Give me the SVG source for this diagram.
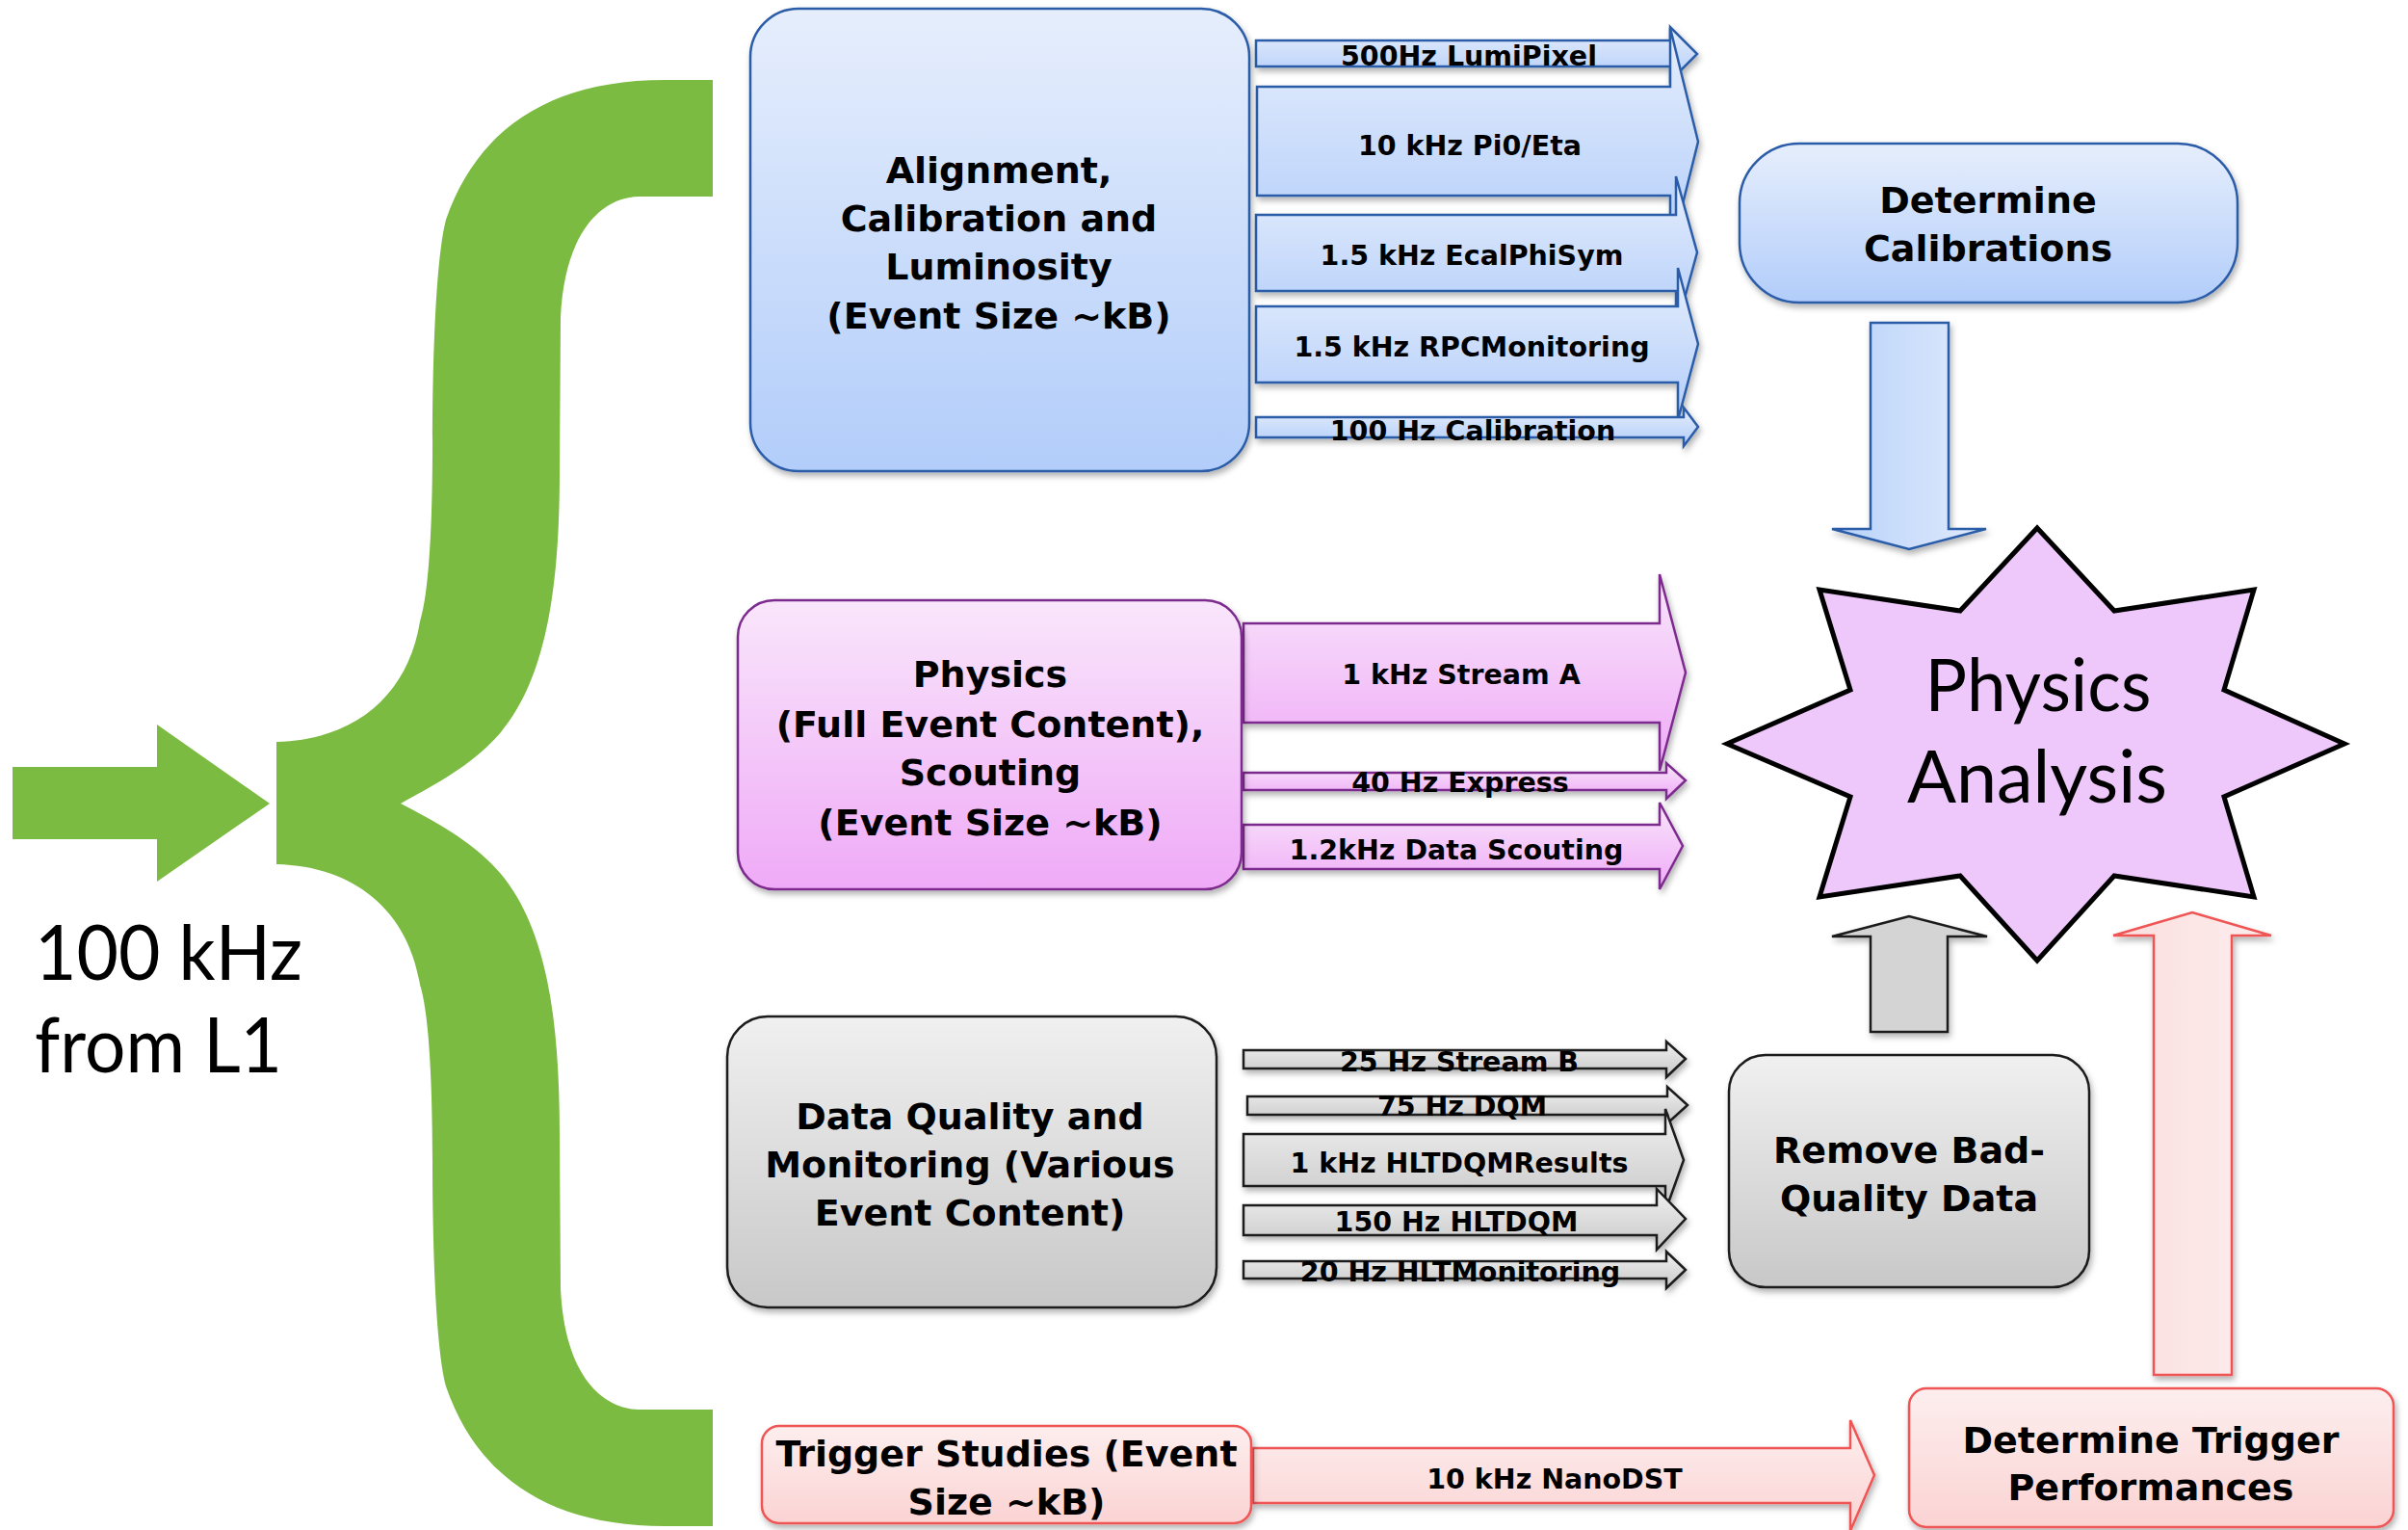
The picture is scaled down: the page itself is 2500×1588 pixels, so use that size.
<svg xmlns="http://www.w3.org/2000/svg" width="2500" height="1588" viewBox="0 0 2500 1588">
<defs>
<linearGradient id="gBlue" x1="0" y1="0" x2="0" y2="1"><stop offset="0" stop-color="#e6eefc"/><stop offset="1" stop-color="#b2cdfa"/></linearGradient>
<linearGradient id="gBlueH" x1="0" y1="0" x2="1" y2="0"><stop offset="0" stop-color="#b8d2fa"/><stop offset="1" stop-color="#e0eafc"/></linearGradient>
<linearGradient id="gPink" x1="0" y1="0" x2="0" y2="1"><stop offset="0" stop-color="#f9e6fb"/><stop offset="1" stop-color="#efaaf7"/></linearGradient>
<linearGradient id="gGray" x1="0" y1="0" x2="0" y2="1"><stop offset="0" stop-color="#f0f0f0"/><stop offset="1" stop-color="#c8c8c8"/></linearGradient>
<linearGradient id="gRed" x1="0" y1="0" x2="0" y2="1"><stop offset="0" stop-color="#fdeeee"/><stop offset="1" stop-color="#fbd3d3"/></linearGradient>
<linearGradient id="gRedH" x1="0" y1="0" x2="1" y2="0"><stop offset="0" stop-color="#fbdede"/><stop offset="1" stop-color="#fdeded"/></linearGradient>
<filter id="sh" x="-10%" y="-10%" width="120%" height="130%"><feDropShadow dx="2" dy="4" stdDeviation="3" flood-color="#000" flood-opacity="0.3"/></filter>
</defs>
<style>
.big{font-family:"DejaVu Sans","Verdana",sans-serif;font-weight:bold;font-size:38px;text-anchor:middle;fill:#000}
.lbl{font-family:"DejaVu Sans","Verdana",sans-serif;font-weight:bold;font-size:28.5px;text-anchor:middle;fill:#000}
.gill{font-family:Lato,"Open Sans",sans-serif;fill:#000}
.blue{fill:url(#gBlue);stroke:#2b5ca8;stroke-width:2.5}
.pink{fill:url(#gPink);stroke:#7d2c8e;stroke-width:2.5}
.gray{fill:url(#gGray);stroke:#1a1a1a;stroke-width:2.5}
.red{fill:url(#gRed);stroke:#f05454;stroke-width:2.5}
.sh{filter:url(#sh)}
</style>
<rect width="2500" height="1588" fill="#fff"/>

<g id="input">
<path d="M740 83 L690 83 C570 83 495 135 463 228 C452 270 449 380 449 460 C449 560 444 620 436 645 C424 720 370 768 287 770 L287 897 C370 899 424 947 436 1022 C444 1047 449 1107 449 1207 C449 1287 452 1397 463 1439 C495 1532 570 1584 690 1584 L740 1584 L740 1463 L663 1463 C625 1462 586 1427 582 1337 L581 1179 C581 1067 570 967 520 907 C490 872 450 852 416 834 C450 815 490 795 520 760 C570 700 581 600 581 488 L582 330 C586 240 625 205 663 204 L740 204 Z" fill="#7bbb41"/>
<polygon points="13,796 163,796 163,752 280,834 163,915 163,871 13,871" fill="#7bbb41"/>
<text class="gill" x="36" y="1017" font-size="80" textLength="278" lengthAdjust="spacingAndGlyphs">100 kHz</text>
<text class="gill" x="36" y="1113" font-size="80" textLength="257" lengthAdjust="spacingAndGlyphs">from L1</text>
</g>

<g id="connectors">
<g class="sh">
<polygon class="blue" points="1304,42 1734,42 1734,28 1762,56 1734,84 1734,69 1304,69"/>
<polygon class="blue" points="1305,90 1734,90 1734,29 1763,147 1734,264 1734,203 1305,203"/>
<polygon class="blue" points="1304,223 1740,223 1740,183 1762,262 1740,342 1740,302 1304,302"/>
<polygon class="blue" points="1304,318 1742,318 1742,278 1763,357 1742,436 1742,397 1304,397"/>
<polygon class="blue" points="1304,433 1748,433 1748,423 1763,443 1748,463 1748,454 1304,454"/>
</g>
<text class="lbl" x="1525" y="68">500Hz LumiPixel</text>
<text class="lbl" x="1526" y="161">10 kHz Pi0/Eta</text>
<text class="lbl" x="1528" y="275">1.5 kHz EcalPhiSym</text>
<text class="lbl" x="1528" y="370">1.5 kHz RPCMonitoring</text>
<text class="lbl" x="1529" y="457">100 Hz Calibration</text>

<g class="sh">
<polygon class="pink" points="1291,647 1723,647 1723,596 1750,698 1723,800 1723,750 1291,750"/>
<polygon class="pink" points="1291,802 1730,802 1730,792 1750,810 1730,829 1730,820 1291,820"/>
<polygon class="pink" points="1291,856 1723,856 1723,833 1747,878 1723,923 1723,902 1291,902"/>
</g>
<text class="lbl" x="1517" y="710">1 kHz Stream A</text>
<text class="lbl" x="1516" y="822">40 Hz Express</text>
<text class="lbl" x="1512" y="892">1.2kHz Data Scouting</text>

<g class="sh">
<polygon class="gray" points="1291,1090 1730,1090 1730,1081 1750,1099 1730,1118 1730,1109 1291,1109"/>
<polygon class="gray" points="1295,1138 1731,1138 1731,1128 1752,1147 1731,1166 1731,1157 1295,1157"/>
<polygon class="gray" points="1291,1177 1729,1177 1729,1151 1748,1204 1729,1257 1729,1231 1291,1231"/>
<polygon class="gray" points="1291,1251 1720,1251 1720,1234 1750,1265 1720,1297 1720,1282 1291,1282"/>
<polygon class="gray" points="1291,1309 1730,1309 1730,1299 1750,1318 1730,1337 1730,1327 1291,1327"/>
</g>
<text class="lbl" x="1515" y="1112">25 Hz Stream B</text>
<text class="lbl" x="1518" y="1158">75 Hz DQM</text>
<text class="lbl" x="1515" y="1217">1 kHz HLTDQMResults</text>
<text class="lbl" x="1512" y="1278">150 Hz HLTDQM</text>
<text class="lbl" x="1516" y="1330">20 Hz HLTMonitoring</text>

<polygon class="sh" points="1301,1503 1921,1503 1921,1474 1946,1531 1921,1589 1921,1560 1301,1560" fill="url(#gRed)" stroke="#f05454" stroke-width="2.5"/>
<text class="lbl" x="1614" y="1545">10 kHz NanoDST</text>

<polygon class="sh" points="1942,335 2023,335 2023,549 2062,549 1982,570 1902,549 1942,549" fill="url(#gBlueH)" stroke="#2b5ca8" stroke-width="2.5"/>
<polygon class="sh" points="1942,1071 2022,1071 2022,972 2063,972 1982,951 1902,972 1942,972" fill="#d4d4d4" stroke="#1a1a1a" stroke-width="2.5"/>
<polygon class="sh" points="2236,1427 2317,1427 2317,971 2358,971 2276,947 2194,971 2236,971" fill="url(#gRedH)" stroke="#f05454" stroke-width="2.5"/>
</g>

<g id="alignment">
<rect class="blue sh" x="779" y="9" width="518" height="480" rx="50" ry="50"/>
<text class="big" x="1037" y="190">Alignment,</text>
<text class="big" x="1037" y="240">Calibration and</text>
<text class="big" x="1037" y="290">Luminosity</text>
<text class="big" x="1037" y="341">(Event Size ~kB)</text>
</g>

<g id="physics">
<rect class="pink sh" x="766" y="623" width="523" height="300" rx="38" ry="38"/>
<text class="big" x="1028" y="713">Physics</text>
<text class="big" x="1028" y="765">(Full Event Content),</text>
<text class="big" x="1028" y="815">Scouting</text>
<text class="big" x="1028" y="867">(Event Size ~kB)</text>
</g>

<g id="dataquality">
<rect class="gray sh" x="755" y="1055" width="508" height="302" rx="42" ry="42"/>
<text class="big" x="1007" y="1172">Data Quality and</text>
<text class="big" x="1007" y="1222">Monitoring (Various</text>
<text class="big" x="1007" y="1272">Event Content)</text>
</g>

<g id="trigger">
<rect class="red sh" x="791" y="1480" width="508" height="101" rx="18" ry="18"/>
<text class="big" x="1045" y="1522">Trigger Studies (Event</text>
<text class="big" x="1045" y="1572">Size ~kB)</text>
</g>

<g id="calibrations">
<rect class="blue sh" x="1806" y="149" width="517" height="165" rx="62" ry="62"/>
<text class="big" x="2064" y="221">Determine</text>
<text class="big" x="2064" y="271">Calibrations</text>
</g>

<g id="analysis">
<polygon points="2115,548 2195,634 2340,612 2309,716 2434,772 2309,827 2340,931 2195,909 2115,997 2035,909 1889,931 1921,827 1793,772 1921,716 1889,612 2035,634" fill="#efc8fb" stroke="#000" stroke-width="5" stroke-linejoin="miter"/>
<text class="gill" x="2116" y="738" font-size="76" text-anchor="middle" textLength="235" lengthAdjust="spacingAndGlyphs">Physics</text>
<text class="gill" x="2115" y="833" font-size="76" text-anchor="middle" textLength="270" lengthAdjust="spacingAndGlyphs">Analysis</text>
</g>

<g id="removebad">
<rect class="gray sh" x="1795" y="1095" width="374" height="241" rx="38" ry="38"/>
<text class="big" x="1982" y="1207">Remove Bad-</text>
<text class="big" x="1982" y="1257">Quality Data</text>
</g>

<g id="triggerperf">
<rect class="red sh" x="1982" y="1441" width="503" height="144" rx="18" ry="18"/>
<text class="big" x="2233" y="1508">Determine Trigger</text>
<text class="big" x="2233" y="1557">Performances</text>
</g>
</svg>
